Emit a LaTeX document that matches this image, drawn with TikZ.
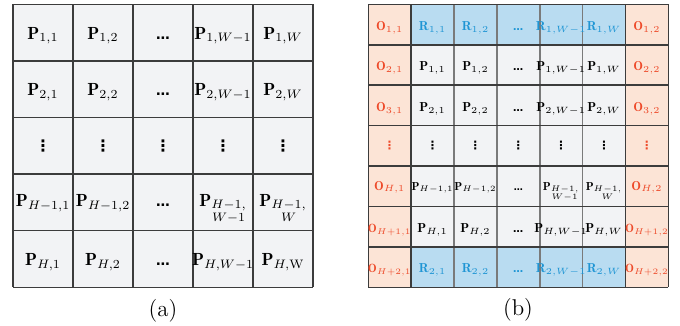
\RequirePackage{fix-cm}
\documentclass[tikz,border=0pt]{standalone}
\usepackage{amsmath}
\usepackage{fontspec}
\newfontfamily\dotsfont{DejaVu Sans}
\definecolor{gridline}{HTML}{3C3C3C}
\definecolor{gridsoft}{HTML}{7A7A7A}
\definecolor{cellgray}{HTML}{F2F3F5}
\definecolor{ofill}{HTML}{FCE4D6}
\definecolor{rfill}{HTML}{B9DCF1}
\definecolor{otext}{HTML}{EE4B2B}
\definecolor{rtext}{HTML}{1E95D4}
\newcommand{\celldots}{{\dotsfont\bfseries\fontsize{0.78em}{1em}\selectfont …}}
\newcommand{\cellvdots}{{\dotsfont\bfseries ⋮}}
\newcommand{\bP}{\mathbf{P}}

\begin{document}
\begin{tikzpicture}[x=0.02cm,y=-0.02cm,
  gridpen/.style={draw=gridline,line width=0.9pt},
  lbla/.style={anchor=base,inner sep=0pt,font=\fontsize{10pt}{12pt}\selectfont},
  lblb/.style={anchor=base,inner sep=0pt,font=\fontsize{7.4pt}{9pt}\selectfont},
  dota/.style={inner sep=0pt,font=\fontsize{9pt}{11pt}\selectfont},
  dotb/.style={inner sep=0pt,font=\fontsize{6.5pt}{8pt}\selectfont},
  otxt/.style={text=otext},
  otight/.style={text=otext,font=\fontsize{6.8pt}{8pt}\selectfont},
  ptight/.style={font=\fontsize{6.6pt}{8pt}\selectfont},
  rtxt/.style={text=rtext}]
  \useasboundingbox (0,0) rectangle (680,325);

  % (a) patches
  \fill[cellgray] (13,4.3) rectangle (313,287.3);
  \foreach \i in {0,...,5}
    \draw[gridpen] ({13+60*\i},4.3) -- ({13+60*\i},287.3);
  \foreach \j in {0,...,5}
    \draw[gridpen] (13,{4.3+56.6*\j}) -- (313,{4.3+56.6*\j});

  \foreach \lab [count=\i] in {{$\bP_{1,1}$},{$\bP_{1,2}$},\celldots,{$\bP_{1,W-1}$},{$\bP_{1,W}$}}
    \node[lbla] (a1\i) at ({43+60*(\i-1)},39.1) {\lab};
  \foreach \lab [count=\i] in {{$\bP_{2,1}$},{$\bP_{2,2}$},\celldots,{$\bP_{2,W-1}$},{$\bP_{2,W}$}}
    \node[lbla] (a2\i) at ({43+60*(\i-1)},95.7) {\lab};
  \foreach \i in {1,...,5}
    \node[dota] (a3\i) at ({43+60*(\i-1)},145.8) {\cellvdots};
  \foreach \lab [count=\i] in {{$\bP_{H-1,1}$},{$\bP_{H-1,2}$},\celldots,{$\bP_{\substack{H-1,\\W-1}}$},{$\bP_{\substack{H-1,\\W}}$}}
    \node[lbla] (a4\i) at ({43+60*(\i-1)},206.5) {\lab};
  \foreach \lab [count=\i] in {{$\bP_{H,1}$},{$\bP_{H,2}$},\celldots,{$\bP_{H,W-1}$},{$\bP_{H,\mathrm{W}}$}}
    \node[lbla] (a5\i) at ({43+60*(\i-1)},265.5) {\lab};
  \node[font=\fontsize{13pt}{15pt}\selectfont] (capa) at (163,311) {(a)};

  % (b) padded patches
  \fill[cellgray] (411.2,44.7) rectangle (625.5,247);
  \fill[ofill] (368.3,4.3) rectangle (411.2,287.3);
  \fill[ofill] (625.5,4.3) rectangle (668.3,287.3);
  \fill[rfill] (411.2,4.3) rectangle (625.5,44.7);
  \fill[rfill] (411.2,247) rectangle (625.5,287.3);
  \foreach \i in {0,1,6,7}
    \draw[gridpen] ({368.3+42.86*\i},4.3) -- ({368.3+42.86*\i},287.3);
  \foreach \i in {2,...,5}
    \draw[gridpen,draw=gridsoft] ({368.3+42.86*\i},4.3) -- ({368.3+42.86*\i},287.3);
  \foreach \j in {0,...,7}
    \draw[gridpen] (368.3,{4.3+40.43*\j}) -- (668.3,{4.3+40.43*\j});

  \node[lblb,otxt] (b11) at (389.7,30.3) {$\mathbf{O}_{1,1}$};
  \foreach \lab [count=\i] in {{$\mathbf{R}_{1,1}$},{$\mathbf{R}_{1,2}$},\celldots,{$\mathbf{R}_{1,W-1}$},{$\mathbf{R}_{1,W}$}}
    \node[lblb,rtxt] (b1\i x) at ({389.7+42.86*\i},30.3) {\lab};
  \node[lblb,otxt] (b17) at (646.9,30.3) {$\mathbf{O}_{1,2}$};

  \node[lblb,otxt] (b21) at (389.7,70.7) {$\mathbf{O}_{2,1}$};
  \foreach \lab [count=\i] in {{$\bP_{1,1}$},{$\bP_{1,2}$},\celldots,{$\bP_{1,W-1}$},{$\bP_{1,W}$}}
    \node[lblb] (b2\i x) at ({389.7+42.86*\i},70.7) {\lab};
  \node[lblb,otxt] (b27) at (646.9,70.7) {$\mathbf{O}_{2,2}$};

  \node[lblb,otxt] (b31) at (389.7,111.2) {$\mathbf{O}_{3,1}$};
  \foreach \lab [count=\i] in {{$\bP_{2,1}$},{$\bP_{2,2}$},\celldots,{$\bP_{2,W-1}$},{$\bP_{2,W}$}}
    \node[lblb] (b3\i x) at ({389.7+42.86*\i},111.2) {\lab};
  \node[lblb,otxt] (b37) at (646.9,111.2) {$\mathbf{O}_{3,2}$};

  \node[dotb,otxt] (b41) at (389.7,145.8) {\cellvdots};
  \foreach \i in {1,...,5}
    \node[dotb] (b4\i x) at ({389.7+42.86*\i},145.8) {\cellvdots};
  \node[dotb,otxt] (b47) at (646.9,145.8) {\cellvdots};

  \node[lblb,otxt] (b51) at (389.7,190) {$\mathbf{O}_{H,1}$};
  \foreach \lab [count=\i] in {{$\bP_{H-1,1}$},{$\bP_{H-1,2}$},\celldots,{$\bP_{\substack{H-1,\\W-1}}$},{$\bP_{\substack{H-1,\\W}}$}}
    \node[lblb,ptight] (b5\i x) at ({389.7+42.86*\i},190) {\lab};
  \node[lblb,otxt] (b57) at (646.9,190) {$\mathbf{O}_{H,2}$};

  \node[lblb,otight] (b61) at (389.7,232.5) {$\mathbf{O}_{H+1,1}$};
  \foreach \lab [count=\i] in {{$\bP_{H,1}$},{$\bP_{H,2}$},\celldots,{$\bP_{H,W-1}$},{$\bP_{H,W}$}}
    \node[lblb] (b6\i x) at ({389.7+42.86*\i},232.5) {\lab};
  \node[lblb,otight] (b67) at (646.9,232.5) {$\mathbf{O}_{H+1,2}$};

  \node[lblb,otight] (b71) at (389.7,272.9) {$\mathbf{O}_{H+2,1}$};
  \foreach \lab [count=\i] in {{$\mathbf{R}_{2,1}$},{$\mathbf{R}_{2,2}$},\celldots,{$\mathbf{R}_{2,W-1}$},{$\mathbf{R}_{2,W}$}}
    \node[lblb,rtxt] (b7\i x) at ({389.7+42.86*\i},272.9) {\lab};
  \node[lblb,otight] (b77) at (646.9,272.9) {$\mathbf{O}_{H+2,2}$};
  \node[font=\fontsize{13pt}{15pt}\selectfont] (capb) at (518,310) {(b)};
\end{tikzpicture}
\end{document}
